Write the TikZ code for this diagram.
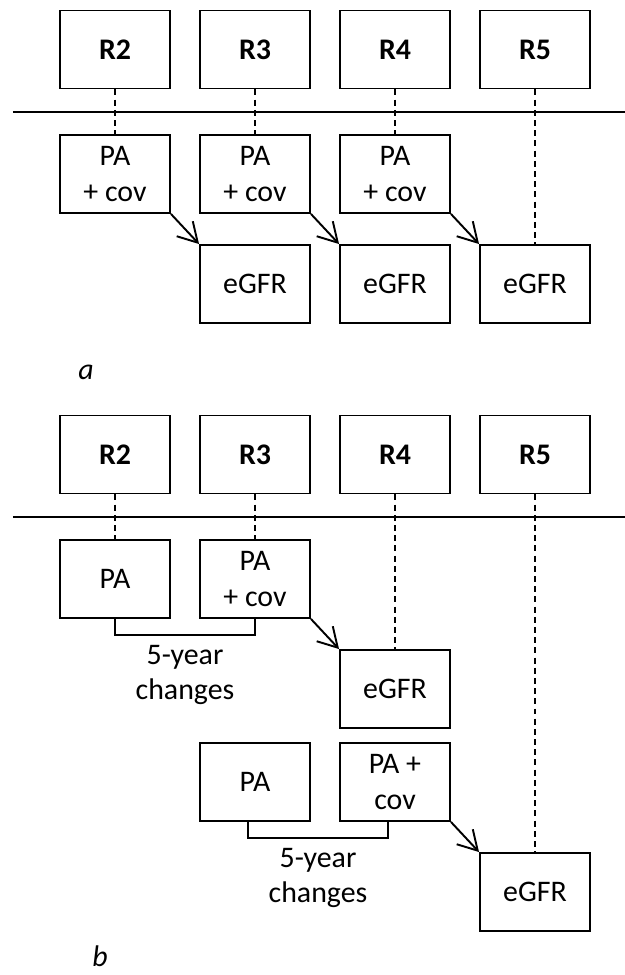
\documentclass[tikz,border=0pt]{standalone}
\usepackage{fontspec}
\setmainfont{Carlito}
\usepackage{tikz}
\usetikzlibrary{arrows.meta,positioning}
\tikzstyle{mybox} = [draw, rectangle, line width=1.1pt, minimum width=2.2cm, minimum height=1.56cm, inner sep=0, align=center, font=\fontsize{17}{20}\selectfont]
\tikzstyle{wavebox} = [mybox, font=\fontsize{17}{20}\selectfont\bfseries]
\tikzstyle{link} = [line width=1.1pt, dash pattern=on 3.4pt off 2.4pt]
\tikzstyle{pred} = [line width=1.1pt, -{Straight Barb[length=3.8mm,width=4.4mm]}]
\tikzstyle{span} = [line width=1.5pt]
\tikzstyle{note} = [align=center, font=\fontsize{17}{20}\selectfont]

\begin{document}
\begin{tikzpicture}
    \useasboundingbox (0,0) rectangle (12.5,-19.5);
    % Panel a: waves
    \node[wavebox] (Ra2) at (2.3,-0.99) {R2};
    \node[wavebox] (Ra3) at (5.1,-0.99) {R3};
    \node[wavebox] (Ra4) at (7.9,-0.99) {R4};
    \node[wavebox] (Ra5) at (10.7,-0.99) {R5};
    \draw[line width=1.3pt] (0.26,-2.24) -- (12.5,-2.24);
    % Panel a: exposures and outcomes
    \node[mybox] (PAa2) at (2.3,-3.48) {PA\\+ cov};
    \node[mybox] (PAa3) at (5.1,-3.48) {PA\\+ cov};
    \node[mybox] (PAa4) at (7.9,-3.48) {PA\\+ cov};
    \node[mybox] (GFRa3) at (5.1,-5.68) {eGFR};
    \node[mybox] (GFRa4) at (7.9,-5.68) {eGFR};
    \node[mybox] (GFRa5) at (10.7,-5.68) {eGFR};
    \draw[link] (Ra2) -- (PAa2);
    \draw[link] (Ra3) -- (PAa3);
    \draw[link] (Ra4) -- (PAa4);
    \draw[link] (Ra5) -- (GFRa5);
    \draw[pred] (PAa2.south east) -- (GFRa3.north west);
    \draw[pred] (PAa3.south east) -- (GFRa4.north west);
    \draw[pred] (PAa4.south east) -- (GFRa5.north west);
    \node[note, font=\fontsize{17}{20}\selectfont\itshape] (Label a) at (1.72,-7.44) {a};

    % Panel b: waves
    \node[wavebox] (Rb2) at (2.3,-9.09) {R2};
    \node[wavebox] (Rb3) at (5.1,-9.09) {R3};
    \node[wavebox] (Rb4) at (7.9,-9.09) {R4};
    \node[wavebox] (Rb5) at (10.7,-9.09) {R5};
    \draw[line width=1.3pt] (0.26,-10.34) -- (12.5,-10.34);
    % Panel b: first change window
    \node[mybox] (PAb2) at (2.3,-11.58) {PA};
    \node[mybox] (PAb3) at (5.1,-11.58) {PA\\+ cov};
    \node[mybox] (GFRb4) at (7.9,-13.78) {eGFR};
    \draw[link] (Rb2) -- (PAb2);
    \draw[link] (Rb3) -- (PAb3);
    \draw[link] (Rb4) -- (GFRb4);
    \draw[pred] (PAb3.south east) -- (GFRb4.north west);
    \draw[span] (PAb2.south) -- ++(0,-0.32) -| (PAb3.south);
    \node[note] (Change1) at (3.7,-13.5) {5-year\\changes};
    % Panel b: second change window
    \node[mybox] (PAc3) at (5.1,-15.64) {PA};
    \node[mybox] (PAc4) at (7.9,-15.64) {PA +\\cov};
    \node[mybox] (GFRb5) at (10.7,-17.84) {eGFR};
    \draw[link] (Rb5) -- (GFRb5);
    \draw[pred] (PAc4.south east) -- (GFRb5.north west);
    \draw[span] ([xshift=-0.14cm]PAc3.south) -- ++(0,-0.32) -| ([xshift=-0.14cm]PAc4.south);
    \node[note] (Change2) at (6.36,-17.56) {5-year\\changes};
    \node[note, font=\fontsize{17}{20}\selectfont\itshape, inner sep=0] (Label b) at (2.0,-19.12) {b};
\end{tikzpicture}
\end{document}
